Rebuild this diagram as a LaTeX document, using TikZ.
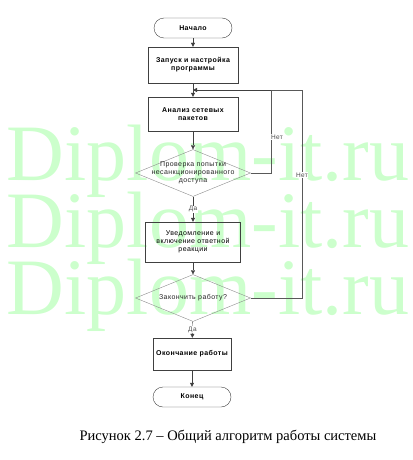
\documentclass[tikz,border=0pt]{standalone}
\usepackage{fontspec}
\setmainfont{Liberation Serif}
\newfontfamily\flowfont[LetterSpace=6]{Liberation Sans}
\usepackage{tikz}
\usetikzlibrary{shapes.geometric, arrows.meta, positioning}

\begin{document}
\begin{tikzpicture}[x=1pt, y=-1pt]
  \tikzstyle{term} = [rectangle, rounded corners=10pt, draw=black!75, minimum width=78pt, minimum height=20pt, font=\flowfont\fontsize{7}{8}\selectfont\bfseries]
  \tikzstyle{proc} = [rectangle, draw=black!75, align=center, inner sep=1pt, font=\flowfont\fontsize{7}{8}\selectfont\bfseries]
  \tikzstyle{cond} = [diamond, draw=black!45, inner sep=0pt, minimum width=115pt, minimum height=47pt]
  \tikzstyle{condtext} = [align=center, font=\flowfont\fontsize{7}{8}\selectfont, text=black!85]
  \tikzstyle{flow} = [draw=black!75, -{Triangle[length=4pt, width=4pt]}]
  \tikzstyle{back} = [draw=black!65]
  \tikzstyle{tag} = [font=\flowfont\fontsize{6.5}{7}\selectfont, text=black!70, fill=white, inner sep=0.5pt]
  \tikzstyle{watermark} = [font=\fontsize{80}{80}\selectfont, text=green!20, anchor=base, inner sep=0pt]
  \useasboundingbox (0,0) rectangle (412,460);

  % watermark
  \node[watermark] (wm1) at (208,180) {Diplom-it.ru};
  \node[watermark] (wm2) at (208,247) {Diplom-it.ru};
  \node[watermark] (wm3) at (208,314) {Diplom-it.ru};

  \node[term] (start) at (193,28) {Начало};
  \node[proc, minimum width=90pt, minimum height=36pt] (setup) at (193,65) {Запуск и настройка\\программы};
  \node[proc, minimum width=90pt, minimum height=34pt] (scan) at (193,114) {Анализ сетевых\\пакетов};
  \node[cond] (check) at (193,173) {};
  \node[condtext] (checktext) at (check.center) {Проверка попытки\\несанкционированного\\доступа};
  \node[proc, minimum width=95pt, minimum height=40pt, font=\flowfont\fontsize{7}{8}\selectfont] (notify) at (193,242) {Уведомление и\\включение ответной\\реакции};
  \node[cond] (finish) at (193,298) {};
  \node[condtext] (finishtext) at (finish.center) {Закончить работу?};
  \node[proc, minimum width=78pt, minimum height=32pt] (stop) at (192,354) {Окончание работы};
  \node[term] (end) at (192,397) {Конец};
  \coordinate (join) at (193,90);

  \draw[flow] (start) -- (setup);
  \draw[flow] (setup) -- (scan);
  \draw[flow] (check) -- node[tag] {Да} (notify);
  \draw[flow] (notify) -- (finish);
  \draw[flow] (finish) -- node[tag, pos=0.5] {Да} (stop);
  \draw[flow] (stop) -- (end);
  \draw[flow] (scan) -- (check);

  \draw[back] (check.east) -| (271,90) -- (join);
  \draw[flow] (271,90) -- (join);
  \draw[back] (finish.east) -| (302,90) -- (271,90);
  \node[tag] (no1) at (277,137) {Нет};
  \node[tag] (no2) at (302,175) {Нет};

  \node[font=\fontsize{14.5}{17}\selectfont] (caption) at (228,437) {Рисунок 2.7 – Общий алгоритм работы системы};
\end{tikzpicture}
\end{document}
